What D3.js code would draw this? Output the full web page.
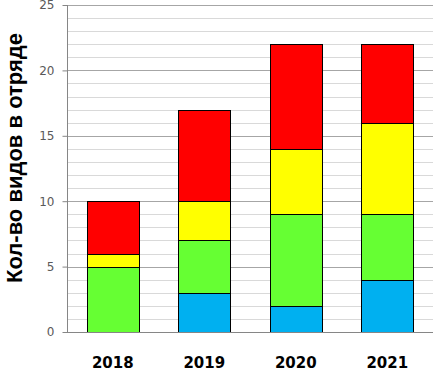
<!DOCTYPE html>
<html>
<head>
<meta charset="utf-8">
<script src="https://cdn.jsdelivr.net/npm/d3@7"></script>
<style>
  body { margin: 0; background: #fff; }
</style>
</head>
<body>
<div id="chart"></div>
<script>
const years = ['2018', '2019', '2020', '2021']
const seriesNames = ['blue', 'green', 'yellow', 'red']
const blueVals = [0, 3, 2, 4]
const greenVals = [5, 4, 7, 5]
const yellowVals = [1, 3, 5, 7]
const redVals = [4, 7, 8, 6]
const yTicks = [0, 5, 10, 15, 20, 25]
const colors = ['#00B0F0', '#66FF33', '#FFFF00', '#FF0000']

const margin = { top: 5, left: 67, right: 1, bottom: 36 }
const width = 434 - margin.left - margin.right
const height = 368 - margin.top - margin.bottom

const svg = d3.select('#chart')
  .append('svg')
  .attr('width', 434)
  .attr('height', 368)

const g = svg.append('g')
  .attr('transform', `translate(${margin.left},${margin.top})`)

const x = d3.scaleBand().domain(years).range([0, width]).paddingInner(0.43).paddingOuter(0.215)
const y = d3.scaleLinear().domain([0, 25]).range([height, 0])

// minor + major gridlines
g.selectAll('.minor')
  .data(d3.range(1, 26).filter(v => v % 5 !== 0))
  .enter().append('line')
  .attr('x1', 0).attr('x2', width)
  .attr('y1', d => Math.round(y(d)) + 0.5).attr('y2', d => Math.round(y(d)) + 0.5)
  .attr('stroke', '#d9d9d9')

g.selectAll('.major')
  .data(yTicks.filter(v => v > 0))
  .enter().append('line')
  .attr('x1', 0).attr('x2', width)
  .attr('y1', d => Math.round(y(d)) + 0.5).attr('y2', d => Math.round(y(d)) + 0.5)
  .attr('stroke', '#a6a6a6')

// stacked data
const rows = years.map((yr, i) => ({
  year: yr, blue: blueVals[i], green: greenVals[i], yellow: yellowVals[i], red: redVals[i]
}))
const stacked = d3.stack().keys(seriesNames)(rows)

g.selectAll('.series')
  .data(stacked)
  .enter().append('g')
  .attr('fill', (d, i) => colors[i])
  .selectAll('rect')
  .data(d => d.filter(p => p[1] > p[0]))
  .enter().append('rect')
  .attr('x', d => Math.round(x(d.data.year)) + 0.5)
  .attr('y', d => Math.round(y(d[1])) + 0.5)
  .attr('width', Math.round(x.bandwidth()))
  .attr('height', d => Math.round(y(d[0])) - Math.round(y(d[1])))
  .attr('stroke', '#000')
  .attr('stroke-width', 1)

// y axis
const yAxis = g.append('g')
  .attr('transform', 'translate(0.5,0)')
  .call(d3.axisLeft(y).tickValues(yTicks).tickSize(5).tickPadding(8))
yAxis.select('.domain').attr('stroke', '#868686').attr('d', `M0,0V${height}`)
yAxis.selectAll('.tick line').attr('stroke', '#868686')
yAxis.selectAll('.tick text')
  .attr('fill', '#595959')
  .style('font-family', 'Verdana, "DejaVu Sans", sans-serif')
  .style('font-size', '12px')

// baseline
g.append('line')
  .attr('x1', 0).attr('x2', width)
  .attr('y1', height + 0.5).attr('y2', height + 0.5)
  .attr('stroke', '#868686')

// x labels
g.selectAll('.xlab')
  .data(years)
  .enter().append('text')
  .attr('x', d => x(d) + x.bandwidth() / 2)
  .attr('y', height + 36)
  .attr('text-anchor', 'middle')
  .style('font-family', '"DejaVu Sans", Verdana, sans-serif')
  .style('font-weight', 'bold')
  .style('font-size', '15px')
  .attr('fill', '#000')
  .text(d => d)

// y title
svg.append('text')
  .attr('transform', 'translate(22,158) rotate(-90)')
  .attr('text-anchor', 'middle')
  .style('font-family', '"Liberation Sans", Arial, sans-serif')
  .style('font-weight', 'bold')
  .style('font-size', '22px')
  .attr('fill', '#000')
  .text('Кол-во видов в отряде')
</script>
</body>
</html>
